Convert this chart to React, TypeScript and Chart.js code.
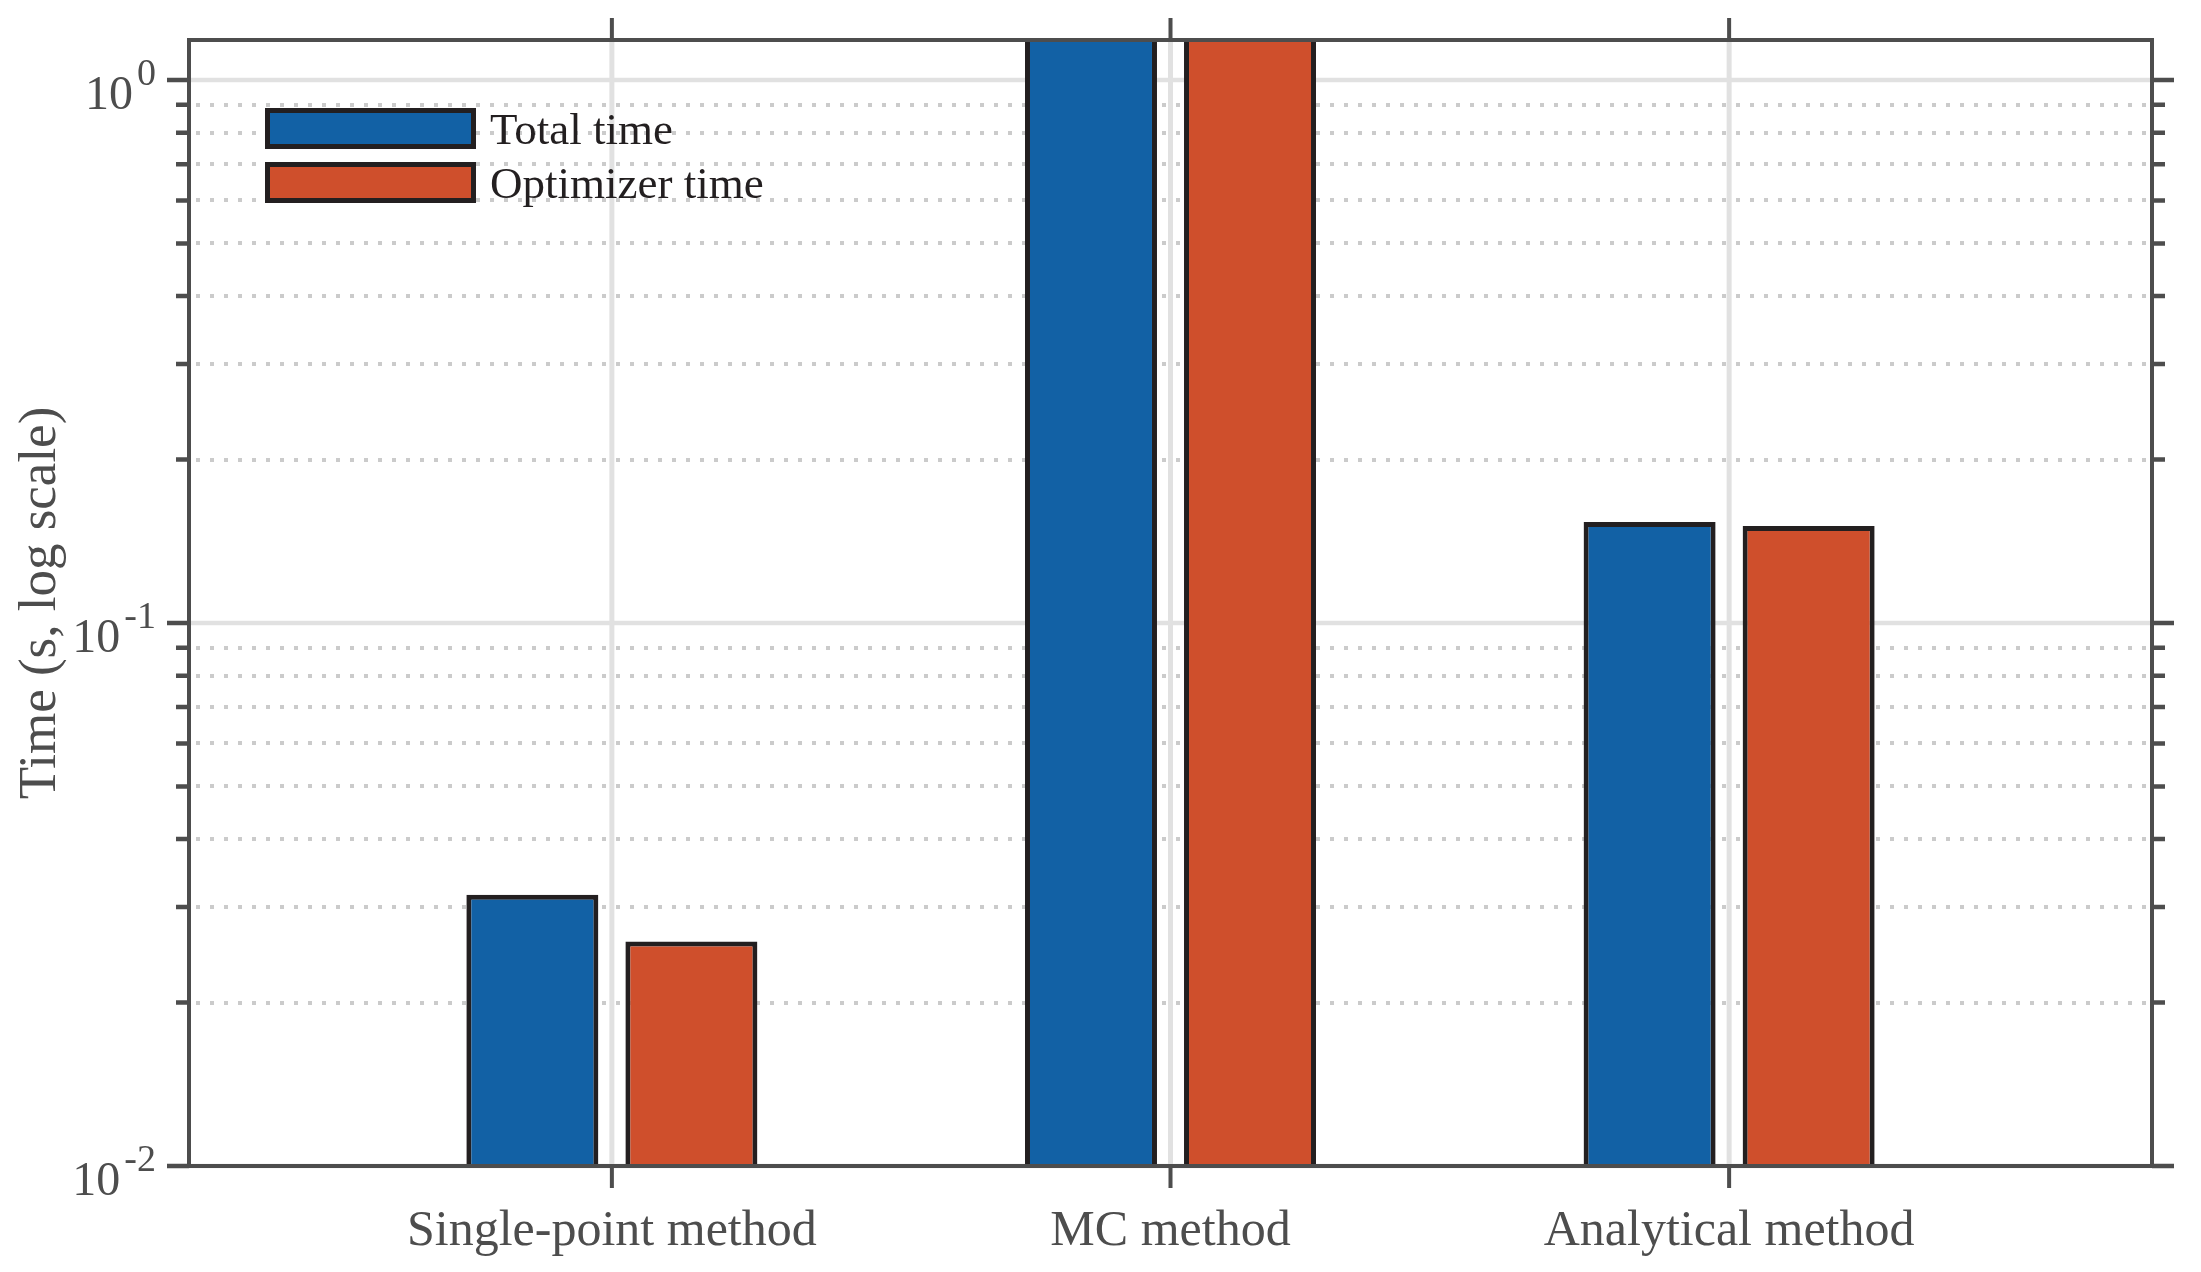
import React, { useEffect, useRef } from 'react';
import { Chart, registerables } from 'chart.js';

Chart.register(...registerables);

// data
const categories = ['Single-point method', 'MC method', 'Analytical method'];
const categoryPositions = [1, 2, 3];
const seriesNames = ['Total time', 'Optimizer time'];
const totalTime = [0.0316, 1.6, 0.1535];
const optimizerTime = [0.0259, 1.6, 0.1509];
const yMajorTicks = [0.01, 0.1, 1];
const yTickExponents = ['-2', '-1', '0'];
const yTitle = 'Time (s, log scale)';

const BLUE = '#1261a5';
const RED = '#cf4f2c';
const EDGE = '#231f20';
const AXIS = '#4d4d4d';
const FONT = '"Liberation Serif", "Times New Roman", serif';

const Y_MIN = 0.01;
const Y_MAX = 1.185;

// minor ticks 2..9 inside each decade
const minorTicks: number[] = [];
yMajorTicks.forEach((m) => {
    for (let k = 2; k <= 9; k++) {
        if (k * m < Y_MAX) minorTicks.push(k * m);
    }
});

const framePlugin = {
    id: 'frame',
    beforeDatasetsDraw(chart: any) {
        const { ctx, chartArea: a, scales } = chart;
        const x = scales.x;
        const y = scales.y;
        ctx.save();
        // dotted minor grid
        ctx.strokeStyle = '#cbcbcb';
        ctx.lineWidth = 4;
        ctx.setLineDash([4, 10]);
        minorTicks.forEach((v) => {
            const py = Math.round(y.getPixelForValue(v));
            ctx.beginPath();
            ctx.moveTo(a.left + 7, py);
            ctx.lineTo(a.right, py);
            ctx.stroke();
        });
        ctx.setLineDash([]);
        // solid major grid
        ctx.strokeStyle = '#e1e1e1';
        ctx.lineWidth = 4.5;
        yMajorTicks.forEach((v) => {
            const py = y.getPixelForValue(v);
            ctx.beginPath();
            ctx.moveTo(a.left, py);
            ctx.lineTo(a.right, py);
            ctx.stroke();
        });
        ctx.lineWidth = 5;
        categoryPositions.forEach((v) => {
            const px = x.getPixelForValue(v);
            ctx.beginPath();
            ctx.moveTo(px, a.top);
            ctx.lineTo(px, a.bottom);
            ctx.stroke();
        });
        ctx.restore();
    },
    afterDatasetsDraw(chart: any) {
        const { ctx, chartArea: a, scales } = chart;
        const x = scales.x;
        const y = scales.y;
        ctx.save();
        ctx.strokeStyle = AXIS;
        ctx.lineWidth = 4;
        ctx.strokeRect(a.left, a.top, a.right - a.left, a.bottom - a.top);

        // y ticks, both sides, pointing out
        ctx.lineWidth = 4.5;
        const yTick = (v: number, len: number) => {
            const py = y.getPixelForValue(v);
            ctx.beginPath();
            ctx.moveTo(a.left - len, py);
            ctx.lineTo(a.left, py);
            ctx.moveTo(a.right, py);
            ctx.lineTo(a.right + len, py);
            ctx.stroke();
        };
        yMajorTicks.forEach((v) => yTick(v, 22));
        minorTicks.forEach((v) => yTick(v, 13));

        // x ticks top and bottom
        ctx.lineWidth = 4;
        categoryPositions.forEach((v) => {
            const px = x.getPixelForValue(v);
            ctx.beginPath();
            ctx.moveTo(px, a.top - 22);
            ctx.lineTo(px, a.top);
            ctx.moveTo(px, a.bottom);
            ctx.lineTo(px, a.bottom + 22);
            ctx.stroke();
        });

        // y tick labels 10^n
        ctx.fillStyle = AXIS;
        ctx.textAlign = 'right';
        ctx.textBaseline = 'alphabetic';
        yMajorTicks.forEach((v, i) => {
            const py = y.getPixelForValue(v);
            const right = a.left - 33;
            ctx.font = `38px ${FONT}`;
            const ew = ctx.measureText(yTickExponents[i]).width;
            ctx.fillText(yTickExponents[i], right, py + 5);
            ctx.font = `48px ${FONT}`;
            ctx.fillText('10', right - ew - 4, py + 29);
        });

        // category labels
        ctx.font = `50px ${FONT}`;
        ctx.textAlign = 'center';
        categoryPositions.forEach((v, i) => {
            ctx.fillText(categories[i], x.getPixelForValue(v), a.bottom + 79);
        });

        // y title
        ctx.save();
        ctx.translate(55, (a.top + a.bottom) / 2);
        ctx.rotate(-Math.PI / 2);
        ctx.font = `53px ${FONT}`;
        ctx.textAlign = 'center';
        ctx.fillText(yTitle, 0, 0);
        ctx.restore();

        // legend inside the axes
        const boxTops = [108, 162];
        chart.data.datasets.forEach((ds: any, i: number) => {
            const bx = 265;
            const by = boxTops[i];
            const bw = 211;
            const bh = 41;
            ctx.fillStyle = ds.backgroundColor;
            ctx.fillRect(bx, by, bw, bh);
            ctx.strokeStyle = EDGE;
            ctx.lineWidth = 5;
            ctx.strokeRect(bx + 2.5, by + 2.5, bw - 5, bh - 5);
            ctx.fillStyle = EDGE;
            ctx.font = `45px ${FONT}`;
            ctx.textAlign = 'left';
            ctx.fillText(ds.label, bx + bw + 14, by + 36);
        });
        ctx.restore();
    },
};

const App: React.FC = () => {
    const chartRef = useRef<HTMLCanvasElement>(null);
    const chartInstanceRef = useRef<Chart | null>(null);

    useEffect(() => {
        if (!chartRef.current) return;
        const ctx = chartRef.current.getContext('2d');
        if (!ctx) return;
        if (chartInstanceRef.current) chartInstanceRef.current.destroy();

        chartInstanceRef.current = new Chart(ctx, {
            type: 'bar',
            data: {
                datasets: [
                    {
                        label: seriesNames[0],
                        data: categoryPositions.map((p, i) => ({ x: p, y: totalTime[i] })),
                        backgroundColor: BLUE,
                        borderColor: EDGE,
                        borderWidth: 5,
                        clip: 0,
                    },
                    {
                        label: seriesNames[1],
                        data: categoryPositions.map((p, i) => ({ x: p, y: optimizerTime[i] })),
                        backgroundColor: RED,
                        borderColor: EDGE,
                        borderWidth: 5,
                        clip: 0,
                    },
                ] as any,
            },
            options: {
                responsive: true,
                maintainAspectRatio: false,
                animation: false,
                categoryPercentage: 0.5694,
                barPercentage: 0.83,
                layout: { padding: { top: 40, right: 49, left: 0, bottom: 0 } },
                plugins: {
                    legend: { display: false },
                    tooltip: { enabled: false },
                },
                scales: {
                    x: {
                        type: 'linear',
                        min: 0.243,
                        max: 3.757,
                        offset: false,
                        bounds: 'data',
                        grid: { display: false },
                        border: { display: false },
                        ticks: { display: false },
                        afterBuildTicks: (scale: any) => {
                            scale.ticks = categoryPositions.map((v) => ({ value: v }));
                        },
                        afterFit: (scale: any) => {
                            scale.height = 106;
                        },
                    },
                    y: {
                        type: 'logarithmic',
                        min: Y_MIN,
                        max: Y_MAX,
                        grid: { display: false },
                        border: { display: false },
                        ticks: { display: false },
                        afterFit: (scale: any) => {
                            scale.width = 189;
                        },
                    },
                } as any,
            },
            plugins: [framePlugin],
        });

        return () => {
            if (chartInstanceRef.current) {
                chartInstanceRef.current.destroy();
                chartInstanceRef.current = null;
            }
        };
    }, []);

    return (
        <div style={{ position: 'fixed', left: 0, top: 0, width: '2201px', height: '1272px', background: '#fff' }}>
            <canvas ref={chartRef}></canvas>
        </div>
    );
};

export default App;
